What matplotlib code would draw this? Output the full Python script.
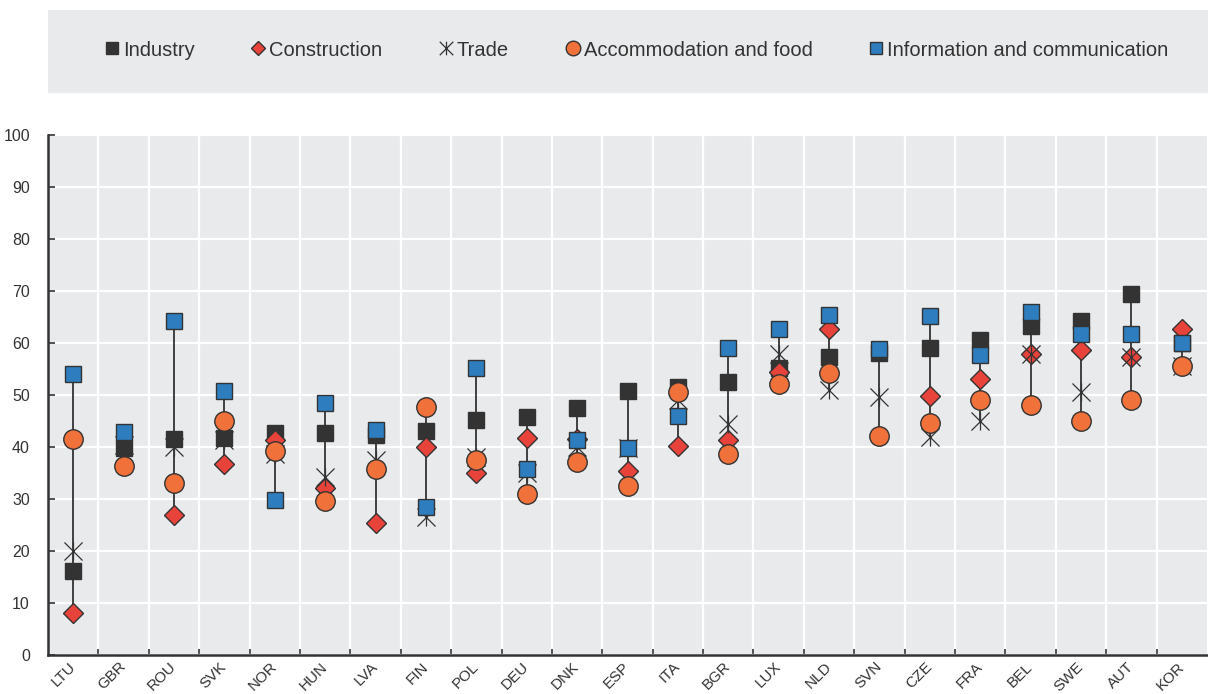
import matplotlib.pyplot as plt
import matplotlib.transforms as mtransforms
import numpy as np
from matplotlib.patches import Rectangle
from matplotlib.path import Path

plt.rcParams['font.family'] = ['Liberation Sans', 'DejaVu Sans']

countries = ['LTU', 'GBR', 'ROU', 'SVK', 'NOR', 'HUN', 'LVA', 'FIN', 'POL', 'DEU', 'DNK', 'ESP',
             'ITA', 'BGR', 'LUX', 'NLD', 'SVN', 'CZE', 'FRA', 'BEL', 'SWE', 'AUT', 'KOR']

industry = [16.2, 39.8, 41.5, 41.7, 42.6, 42.6, 42.2, 43.0, 45.1, 45.7, 47.4, 50.8,
            51.5, 52.5, 55.1, 57.2, 58.0, 59.1, 60.6, 63.2, 64.2, 69.4, 60.0]
construction = [8.1, np.nan, 26.9, 36.6, 41.3, 32.0, 25.3, 39.9, 34.9, 41.7, 41.5, 35.4,
                40.2, 41.4, 54.4, 62.6, np.nan, 49.7, 53.1, 57.9, 58.6, 57.3, 62.6]
trade = [20.0, 40.3, 40.0, 41.4, 38.7, 34.2, 37.4, 26.4, 38.0, 34.9, 40.0, 39.7,
         49.0, 44.4, 57.8, 51.0, 49.5, 41.9, 44.9, 57.9, 50.5, 57.2, 55.5]
accommodation = [41.5, 36.4, 33.1, 44.9, 39.2, 29.6, 35.7, 47.7, 37.4, 30.9, 37.1, 32.5,
                 50.5, 38.7, 52.0, 54.2, 42.0, 44.6, 49.0, 48.1, 44.9, 49.0, 55.5]
information = [54.1, 42.9, 64.2, 50.8, 29.7, 48.5, 43.3, 28.5, 55.1, 35.8, 41.3, 39.7,
               46.0, 59.0, 62.6, 65.4, 58.9, 65.1, 57.6, 66.0, 61.8, 61.8, 59.9]

edge = '#333333'
bg = '#e9eaec'

# x-cross with a vertical bar through it
star = Path([(-1, -1), (1, 1), (-1, 1), (1, -1), (0, -1), (0, 1)],
            [Path.MOVETO, Path.LINETO, Path.MOVETO, Path.LINETO, Path.MOVETO, Path.LINETO])

fig = plt.figure(figsize=(12.08, 6.94), dpi=100)
ax = fig.add_axes([48 / 1208, 39.3 / 694, 1159 / 1208, 519.7 / 694])
ax.set_facecolor(bg)

x = np.arange(len(countries))
allv = np.array([industry, construction, trade, accommodation, information], dtype=float)
lo = np.nanmin(allv, axis=0)
hi = np.nanmax(allv, axis=0)
ax.vlines(x, lo, hi, color=edge, lw=1.3, zorder=2)

series = [
    ('Industry', industry, dict(marker='s', ms=12, mfc=edge)),
    ('Construction', construction, dict(marker='D', ms=9.8, mfc='#e8433a')),
    ('Trade', trade, dict(marker=star, ms=13, mfc='none', mew=0.9)),
    ('Accommodation and food', accommodation, dict(marker='o', ms=14, mfc='#f07139')),
    ('Information and communication', information, dict(marker='s', ms=12, mfc='#2e7ebf')),
]
for i, (name, vals, st) in enumerate(series):
    ax.plot(x, vals, ls='none', mec=edge, mew=st.pop('mew', 1.0), label=name, zorder=3 + i, **st)

ax.set_xlim(-0.5, len(countries) - 0.5)
ax.set_ylim(0, 100)
ax.set_yticks(np.arange(0, 101, 10))
ax.set_xticks(x)
ax.set_xticklabels(countries, rotation=45, ha='right', va='center', rotation_mode='anchor')
shift = mtransforms.ScaledTranslation(5 / 100, 0, fig.dpi_scale_trans)
for lab in ax.get_xticklabels():
    lab.set_transform(lab.get_transform() + shift)
ax.set_xticks(x[:-1] + 0.5, minor=True)
ax.tick_params(axis='x', which='major', length=0, pad=7, labelsize=11, labelcolor=edge)
ax.tick_params(axis='x', which='minor', direction='in', length=4, width=1.2, color=edge)
ax.tick_params(axis='y', direction='in', length=5, width=1.2, color=edge, labelsize=11.5,
               labelcolor=edge, pad=13)

ax.grid(True, which='minor', axis='x', color='white', lw=1.6)
ax.grid(True, which='major', axis='y', color='white', lw=1.6)
ax.set_axisbelow(True)
for s in ['top', 'right']:
    ax.spines[s].set_visible(False)
for s in ['left', 'bottom']:
    ax.spines[s].set_color(edge)
    ax.spines[s].set_linewidth(1.8)

fig.patches.append(Rectangle((48 / 1208, 1 - 93 / 694), 1160 / 1208, 83 / 694,
                             transform=fig.transFigure, facecolor=bg, edgecolor='none', zorder=0))
handles, labels = ax.get_legend_handles_labels()
fig.legend(handles, labels, loc='center', bbox_to_anchor=(0.527, 1 - 50 / 694), ncol=5,
           frameon=False, fontsize=14.5, markerscale=0.75, handlelength=0.7,
           handletextpad=0.2, columnspacing=2.8, labelcolor=edge)

fig.savefig('out.png', dpi=100)
